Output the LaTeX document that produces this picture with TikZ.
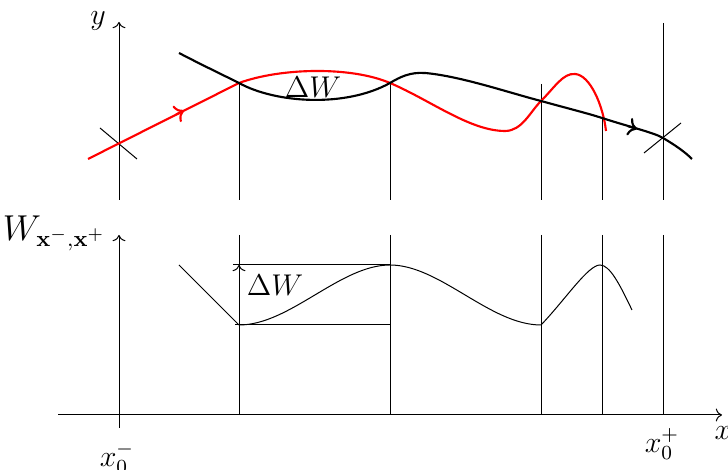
\documentclass[tikz,border=0pt]{standalone}
\usetikzlibrary{arrows.meta}
\begin{document}
\begin{tikzpicture}[x=0.4pt,y=-0.4pt,
  font=\large,
  axis/.style={line width=0.4pt},
  guide/.style={line width=0.4pt},
  curve/.style={line width=0.85pt},
  wcurve/.style={line width=0.4pt},
  lbl/.style={inner sep=0pt}]
\useasboundingbox (0,0) rectangle (728,470);
\clip (0,0) rectangle (728,470);
% upper axis
\draw[axis,-{To}] (119,200) -- (119,22);
\node[lbl] (ylab) at (98,21) {$y$};
% upper guide lines
\draw[guide] (239,83) -- (239,200);
\draw[guide] (390,83) -- (390,200);
\draw[guide] (541,84) -- (541,200);
\draw[guide] (602,118) -- (602,200);
\draw[guide] (663,23) -- (663,200);
% crosses
\draw[guide] (100,128) -- (137,159);
\draw[guide] (644,153) -- (681,123);
% red curve
\draw[curve,red] (88,159) -- (239,83)
  .. controls (280,68) and (350,66) .. (390,83)
  .. controls (430,100) and (470,131) .. (505,131)
  .. controls (522,131) and (530,112) .. (541,101)
  .. controls (555,87) and (563,73) .. (575,74)
  .. controls (590,75) and (603,105) .. (606,131);
\draw[curve,red,-{To}] (176,114.5) -- (184,110.5);
% black curve
\draw[curve] (179,53) .. controls (200,64) and (225,76) .. (239,83)
  .. controls (275,103) and (345,108) .. (390,83)
  .. controls (400,77) and (410,72) .. (425,73)
  .. controls (460,76) and (510,93) .. (541,101)
  .. controls (570,109) and (590,114) .. (602,118)
  .. controls (630,127) and (655,133) .. (663,138)
  .. controls (675,145) and (685,152) .. (692,159);
\draw[curve,-{To}] (628,126.2) -- (637,129);
\node[lbl] (dw1) at (313,87) {$\Delta W$};
% lower axes
\draw[axis,-{To}] (119,428) -- (119,235);
\draw[axis,-{To}] (58,415) -- (722,415);
\node[lbl,anchor=base east,font=\fontsize{13.5}{16}\selectfont] (wlab) at (106,241) {$W_{\mathbf{x}^-,\mathbf{x}^+}$};
\node[lbl] (xlab) at (723,433) {$x$};
\node[lbl] (xm) at (117,458) {$x_0^-$};
\node[lbl] (xp) at (662,444) {$x_0^+$};
% lower guides
\draw[guide] (239,235) -- (239,415);
\draw[guide] (390,235) -- (390,415);
\draw[guide] (541,235) -- (541,415);
\draw[guide] (602,235) -- (602,415);
\draw[guide] (663,235) -- (663,415);
% delta W box
\draw[guide] (233,265) -- (390,265);
\draw[guide] (235,325) -- (390,325);
\draw[guide,-{To}] (239,325) -- (239,265);
\node[lbl] (dw2) at (275,285) {$\Delta W$};
% W curve
\draw[wcurve] (179,265) -- (239,325)
  .. controls (290,325) and (340,265) .. (390,265)
  .. controls (440,265) and (490,325) .. (541,325)
  .. controls (565,300) and (588,265) .. (600,265)
  .. controls (610,265) and (620,285) .. (632,310);
\end{tikzpicture}
\end{document}
